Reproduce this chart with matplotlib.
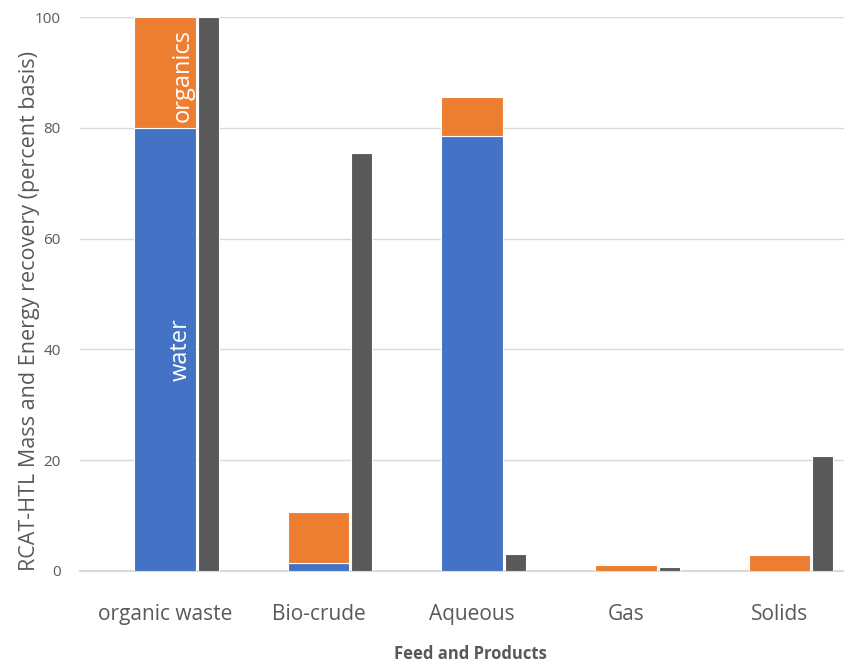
import numpy as np
import matplotlib
matplotlib.use("Agg")
from matplotlib import pyplot as plt

# --- data (percent basis)
categories = ["organic waste", "Bio-crude", "Aqueous", "Gas", "Solids"]
water = [80.0, 1.4, 78.5, 0.0, 0.0]
organics = [20.0, 9.3, 7.1, 1.0, 2.8]
energy = [100.0, 75.5, 3.0, 0.7, 20.7]

BLUE = "#4472C4"
ORANGE = "#ED7D31"
DARK = "#595959"
TEXT = "#595959"

plt.rcParams["font.family"] = ["Open Sans", "DejaVu Sans"]

fig = plt.figure(figsize=(8.44, 6.65), dpi=100)
ax = fig.add_axes([0.0948, 0.1414, 0.9052, 0.8330])

x = np.arange(len(categories))
w_stack = 0.40
w_gray = 0.137

ax.bar(x, water, width=w_stack, color=BLUE, edgecolor="white", linewidth=0.8, zorder=3)
ax.bar(x, organics, width=w_stack, bottom=water, color=ORANGE,
       edgecolor="white", linewidth=0.8, zorder=3)
ax.bar(x + w_stack / 2 + 0.013, energy, width=w_gray, align="edge",
       color=DARK, edgecolor="white", linewidth=0.8, zorder=3)

# labels inside the first stacked bar
ax.text(x[0] + 0.1, water[0] / 2, "water", rotation=90, color="white",
        ha="center", va="center", fontsize=17, zorder=4)
ax.text(x[0] + 0.115, water[0] + organics[0] / 2 - 0.5, "organics", rotation=90,
        color="white", ha="center", va="center", fontsize=17, zorder=4)

ax.set_xlim(-0.553, 4.42)
ax.set_ylim(0, 100)
ax.set_yticks([0, 20, 40, 60, 80, 100])
ax.set_xticks(x)
ax.set_xticklabels(categories, fontsize=15, color=TEXT)
ax.tick_params(axis="y", labelsize=11, colors=TEXT, length=0, pad=14)
ax.tick_params(axis="x", length=0, pad=24)

ax.grid(axis="y", color="#D9D9D9", linewidth=1, zorder=0)
for s in ["top", "right", "left"]:
    ax.spines[s].set_visible(False)
ax.spines["bottom"].set_color("#D9D9D9")
ax.spines["bottom"].set_linewidth(1.5)

ax.set_ylabel("RCAT-HTL Mass and Energy recovery (percent basis)",
              fontsize=15.5, color=TEXT)
ax.yaxis.set_label_coords(-0.052, 0.47)
fig.text(0.557, 0.016, "Feed and Products", fontsize=12, fontweight="bold",
         color=TEXT, ha="center", va="center")

fig.savefig("out.png", dpi=100)
